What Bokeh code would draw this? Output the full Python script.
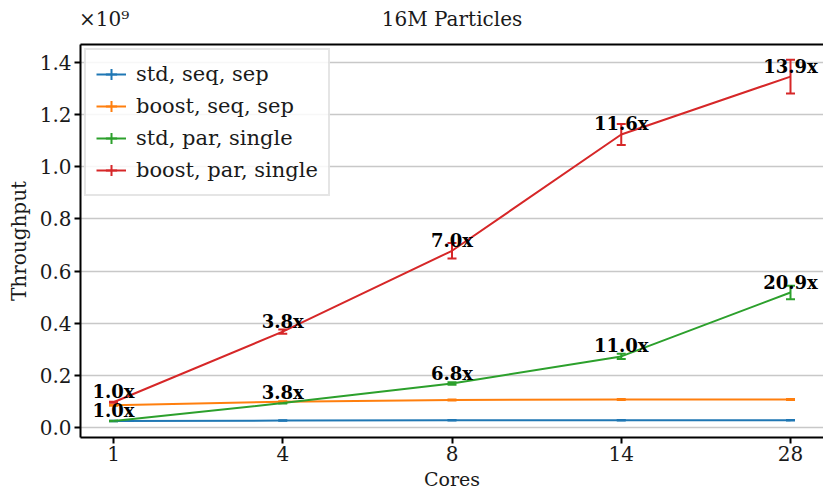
from bokeh.plotting import figure
from bokeh.models import (Range1d, FixedTicker, Whisker, TeeHead, ColumnDataSource,
                          Legend, LegendItem, LinearAxis, PrintfTickFormatter)
from bokeh.core.properties import value
from bokeh.embed import file_html
from bokeh.resources import INLINE

# ---------------- data (throughput in units of 1e9) ----------------
cores = ["1", "4", "8", "14", "28"]
xs = [0, 1, 2, 3, 4]

std_seq_sep = [0.025, 0.027, 0.028, 0.028, 0.028]
std_seq_sep_err = [0.001, 0.001, 0.001, 0.001, 0.001]

boost_seq_sep = [0.086, 0.099, 0.106, 0.108, 0.108]
boost_seq_sep_err = [0.002, 0.002, 0.002, 0.002, 0.002]

std_par_single = [0.025, 0.094, 0.169, 0.273, 0.518]
std_par_single_err = [0.001, 0.002, 0.005, 0.010, 0.026]

boost_par_single = [0.097, 0.368, 0.678, 1.124, 1.346]
boost_par_single_err = [0.002, 0.008, 0.030, 0.040, 0.065]

std_par_labels = ["1.0x", "3.8x", "6.8x", "11.0x", "20.9x"]
boost_par_labels = ["1.0x", "3.8x", "7.0x", "11.6x", "13.9x"]

series_names = ["std, seq, sep", "boost, seq, sep", "std, par, single", "boost, par, single"]
colors = ["#1f77b4", "#ff7f0e", "#2ca02c", "#d62728"]
y_ticks = [0.0, 0.2, 0.4, 0.6, 0.8, 1.0, 1.2, 1.4]

title_text = "16M Particles"
multiplier_text = "×10⁹"

FONT = "DejaVu Serif"
TXT = "#1a1a1a"

X0, X1 = -0.195, 4.195
p = figure(width=823, height=494, output_backend="svg", toolbar_location=None,
           x_range=Range1d(X0, X1), y_range=Range1d(-0.038, 1.469),
           min_border_left=80, min_border_right=0, min_border_top=44, min_border_bottom=57)
p.outline_line_color = None
p.background_fill_color = "white"

# axes
p.xaxis.ticker = FixedTicker(ticks=xs)
p.xaxis.major_label_overrides = {x: c for x, c in zip(xs, cores)}
p.yaxis.ticker = FixedTicker(ticks=y_ticks)
p.yaxis.formatter = PrintfTickFormatter(format="%.1f")
p.xaxis.axis_label = "Cores"
p.yaxis.axis_label = "Throughput"
for ax in (p.xaxis[0], p.yaxis[0]):
    ax.axis_line_width = 2
    ax.axis_line_color = "black"
    ax.major_tick_line_width = 2
    ax.major_tick_line_color = "black"
    ax.major_tick_out = 6
    ax.major_tick_in = 0
    ax.minor_tick_line_color = None
    ax.major_label_text_font = FONT
    ax.major_label_text_font_size = "20px"
    ax.major_label_text_color = TXT
    ax.axis_label_text_font = FONT
    ax.axis_label_text_font_size = "20px"
    ax.axis_label_text_font_style = "normal"
    ax.axis_label_text_color = TXT
p.xaxis.axis_label_text_font_size = "19px"
p.xaxis.major_label_standoff = 2
p.xaxis.axis_label_standoff = 4
p.yaxis.major_label_standoff = 3
p.yaxis.axis_label_standoff = 6

p.xgrid.visible = False
p.ygrid.grid_line_color = "#c8c8c8"
p.ygrid.grid_line_width = 1.5

# top spine, carrying the title row (x10^9 multiplier at left, title centred)
mult_x = X0 + 0.14
title_x = (X0 + X1) / 2
top = LinearAxis(ticker=FixedTicker(ticks=[mult_x, title_x]),
                 major_label_overrides={mult_x: multiplier_text, title_x: title_text})
top.axis_line_width = 2
top.axis_line_color = "black"
top.major_tick_line_color = None
top.minor_tick_line_color = None
top.major_tick_out = 0
top.major_tick_in = 0
top.major_label_standoff = 14
top.major_label_text_font = FONT
top.major_label_text_font_size = "20px"
top.major_label_text_color = TXT
p.add_layout(top, "above")

all_vals = [std_seq_sep, boost_seq_sep, std_par_single, boost_par_single]
all_errs = [std_seq_sep_err, boost_seq_sep_err, std_par_single_err, boost_par_single_err]

items = []
for name, vals, errs, c in zip(series_names, all_vals, all_errs, colors):
    src = ColumnDataSource(dict(x=xs, y=vals,
                                upper=[v + e for v, e in zip(vals, errs)],
                                lower=[v - e for v, e in zip(vals, errs)]))
    r = p.line("x", "y", source=src, line_color=c, line_width=2)
    w = Whisker(source=src, base="x", upper="upper", lower="lower", dimension="height",
                line_color=c, line_width=2,
                upper_head=TeeHead(size=9, line_color=c, line_width=2),
                lower_head=TeeHead(size=9, line_color=c, line_width=2))
    p.add_layout(w)
    # legend-only errorbar symbol (size 0 on the plot itself)
    sym = p.scatter("x", "y", source=src, marker="cross", size=0, line_color=c, line_width=2)
    items.append(LegendItem(label=name, renderers=[r, sym]))

legend = Legend(items=items, location="top_left")
legend.label_text_font = FONT
legend.label_text_font_size = "21px"
legend.label_text_color = TXT
legend.border_line_color = "#cccccc"
legend.border_line_width = 2
legend.background_fill_alpha = 0.85
legend.glyph_width = 30
legend.glyph_height = 28
legend.label_height = 28
legend.spacing = 4
legend.padding = 10
legend.margin = 4
legend.label_standoff = 10
p.add_layout(legend)

# speedup annotations
for vals, labels in ((std_par_single, std_par_labels), (boost_par_single, boost_par_labels)):
    p.text(x=xs, y=vals, text=labels, text_font=value(FONT), text_font_style="bold",
           text_font_size="18px", text_align="center", text_baseline="bottom",
           text_color="black")

open("out.html", "w").write(file_html(p, INLINE))
